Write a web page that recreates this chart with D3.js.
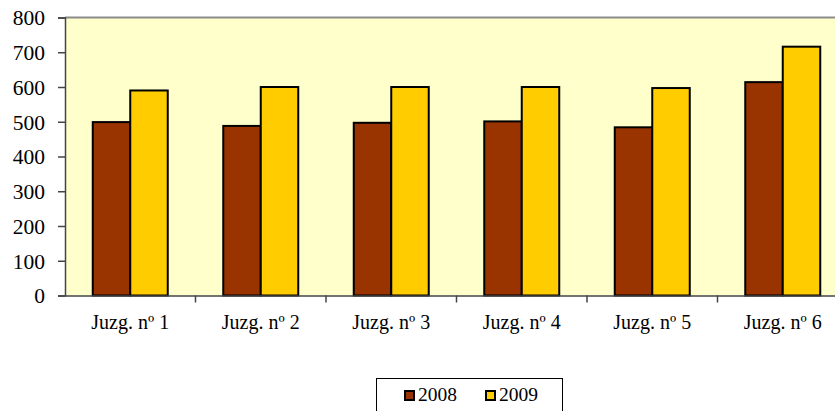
<!DOCTYPE html>
<html><head><meta charset="utf-8">
<script src="https://cdn.jsdelivr.net/npm/d3@7/dist/d3.min.js"></script>
<style>html,body{margin:0;padding:0;background:#fff;overflow:hidden} svg text{font-family:'Liberation Serif','Times New Roman',serif !important;}</style>
</head><body><svg id="c" width="835" height="411"></svg>
<script>
const categories = ["Juzg. nº 1","Juzg. nº 2","Juzg. nº 3","Juzg. nº 4","Juzg. nº 5","Juzg. nº 6"];
const seriesNames = ["2008","2009"];
const values2008 = [499, 488, 497, 501, 484, 614];
const values2009 = [590, 600, 600, 600, 597, 716];
const yTicks = [0,100,200,300,400,500,600,700,800];
const colors = ["#993300","#FFCC00"];

(function(){
const svg = d3.select("#c");
const font = "'Liberation Serif','Times New Roman',serif";
const pLeft = 65, pRight = 848, pTop = 17.5, pBottom = 295.5;

const y = d3.scaleLinear().domain([0,800]).range([pBottom, pTop]);
const x = d3.scaleBand().domain(categories).range([pLeft, pRight]).padding(0);
const x1 = d3.scaleBand().domain(seriesNames).range([0, x.bandwidth()]).paddingInner(0).paddingOuter(0.74);

svg.append("rect").attr("x", pLeft).attr("y", pTop).attr("width", pRight-pLeft).attr("height", pBottom-pTop).attr("fill","#FFFFCC");
svg.append("line").attr("x1", pLeft).attr("x2", pRight).attr("y1", pTop).attr("y2", pTop).attr("stroke","#8c8c8c").attr("stroke-width",2);

const data = categories.map((c,i)=>({cat:c, vals:[values2008[i], values2009[i]]}));
const g = svg.append("g");
data.forEach(d=>{
  d.vals.forEach((v,j)=>{
    g.append("rect")
      .attr("x", x(d.cat) + x1(seriesNames[j]))
      .attr("y", y(v))
      .attr("width", x1.bandwidth())
      .attr("height", y(0)-y(v))
      .attr("fill", colors[j])
      .attr("stroke","#000").attr("stroke-width",2);
  });
});

const ya = svg.append("g").attr("transform",`translate(${pLeft},0)`)
  .call(d3.axisLeft(y).tickValues(yTicks).tickSize(7).tickFormat(d3.format("d")));
ya.attr("font-family", font);
ya.select(".domain").attr("stroke","#444").attr("stroke-width",1.5);
ya.selectAll(".tick line").attr("stroke","#444").attr("stroke-width",1.5);
ya.selectAll(".tick text").attr("font-family",font).attr("font-size",21.5).attr("fill","#000").attr("x",-20).attr("dy","0.34em");

const xa = svg.append("g").attr("transform",`translate(0,${pBottom})`)
  .call(d3.axisBottom(x).tickSize(0).tickFormat(d=>d));
xa.attr("font-family", font);
xa.select(".domain").attr("stroke","#444").attr("stroke-width",1.5);
xa.selectAll(".tick text").attr("font-family",font).attr("font-size",20).attr("fill","#000").attr("y",33).attr("dy",0);
svg.append("g").selectAll("line").data(categories.slice(1)).join("line")
  .attr("x1", d=>x(d)).attr("x2", d=>x(d)).attr("y1", pBottom).attr("y2", pBottom+7)
  .attr("stroke","#444").attr("stroke-width",1.5);

const lg = svg.append("g");
lg.append("rect").attr("x",376.5).attr("y",378.5).attr("width",186).attr("height",40).attr("fill","#fff").attr("stroke","#000").attr("stroke-width",1);
const lx = [404, 485];
seriesNames.forEach((s,i)=>{
  lg.append("rect").attr("x",lx[i]+1).attr("y",391).attr("width",9).attr("height",9).attr("fill",colors[i]).attr("stroke","#000").attr("stroke-width",2);
  lg.append("text").attr("x",lx[i]+14).attr("y",401).attr("font-family",font).attr("font-size",19.5).attr("fill","#000").text(s);
});
})();
</script></body></html>
